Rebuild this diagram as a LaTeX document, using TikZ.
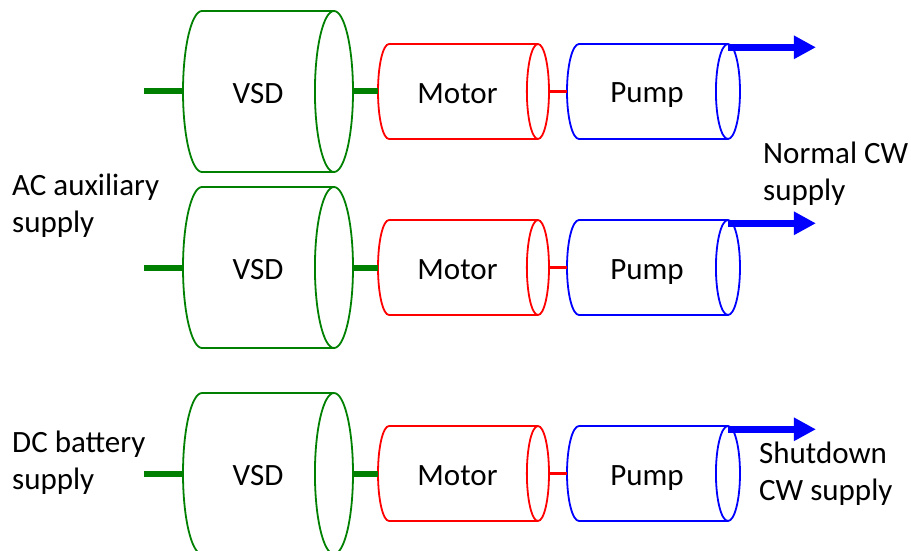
\documentclass[tikz,border=0pt]{standalone}
\usepackage{fontspec}
\setmainfont{Carlito}
\usepackage{tikz}
\usetikzlibrary{shapes.geometric,arrows.meta,positioning}
\definecolor{vsdgreen}{RGB}{0,128,0}

\tikzset{
  unit/.style={cylinder, draw, line width=1.8pt, inner sep=0pt, outer sep=0pt,
    text height=25.5pt, text depth=2.5pt, font=\fontsize{31}{37}\selectfont},
  vsd/.style={unit, vsdgreen, text=black, shape aspect=1.36, minimum height=170pt, minimum width=161pt},
  motor/.style={unit, red, text=black, shape aspect=0.79, minimum height=171pt, minimum width=95pt},
  pump/.style={unit, blue, text=black, shape aspect=0.86, minimum height=173pt, minimum width=95pt},
  feed/.style={vsdgreen, line width=6pt},
  shaft/.style={red, line width=3pt},
  flow/.style={blue, line width=6.5pt, -{Triangle[length=22pt,width=22pt]}},
  label/.style={align=left, inner sep=0pt, font=\fontsize{31}{37}\selectfont}
}

\begin{document}
\begin{tikzpicture}[x=1pt,y=-1pt]
        \useasboundingbox (0,0) rectangle (911,551);
        % normal CW train A
        \node[vsd, anchor=west] (vsdA) at (183,91.5) {VSD};
        \node[motor, right=25pt of vsdA] (motA) {Motor};
        \node[pump, right=18pt of motA] (pmpA) {Pump};
        \coordinate (inA) at (144,91.5);
        \coordinate (outA) at ([shift={(88,3.3)}]pmpA.before top);
        \draw[feed] (inA) -- (vsdA.west);
        \draw[feed] (vsdA.east) -- (motA.west);
        \draw[shaft] (motA.east) -- (pmpA.west);
        \draw[flow] ([yshift=-3.3pt]pmpA.before top) -- (outA);
        % normal CW train B
        \node[vsd, anchor=west] (vsdB) at (183,267.5) {VSD};
        \node[motor, right=25pt of vsdB] (motB) {Motor};
        \node[pump, right=18pt of motB] (pmpB) {Pump};
        \coordinate (inB) at (144,267.5);
        \coordinate (outB) at ([shift={(88,3.3)}]pmpB.before top);
        \draw[feed] (inB) -- (vsdB.west);
        \draw[feed] (vsdB.east) -- (motB.west);
        \draw[shaft] (motB.east) -- (pmpB.west);
        \draw[flow] ([yshift=-3.3pt]pmpB.before top) -- (outB);
        % shutdown CW train
        \node[vsd, anchor=west] (vsdC) at (183,473.5) {VSD};
        \node[motor, right=25pt of vsdC] (motC) {Motor};
        \node[pump, right=18pt of motC] (pmpC) {Pump};
        \coordinate (inC) at (144,473.5);
        \coordinate (outC) at ([shift={(88,3.3)}]pmpC.before top);
        \draw[feed] (inC) -- (vsdC.west);
        \draw[feed] (vsdC.east) -- (motC.west);
        \draw[shaft] (motC.east) -- (pmpC.west);
        \draw[flow] ([yshift=-3.3pt]pmpC.before top) -- (outC);
        % supplies
        \node[label, anchor=base west] (acsup) at (12,232) {AC auxiliary\\supply};
        \node[label, anchor=base west] (dcsup) at (12,489) {DC battery\\supply};
        \node[label, anchor=base west] (norm) at (763,200) {Normal CW\\supply};
        \node[label, anchor=base west] (shut) at (759,500) {Shutdown\\CW supply};
      \end{tikzpicture}
\end{document}
